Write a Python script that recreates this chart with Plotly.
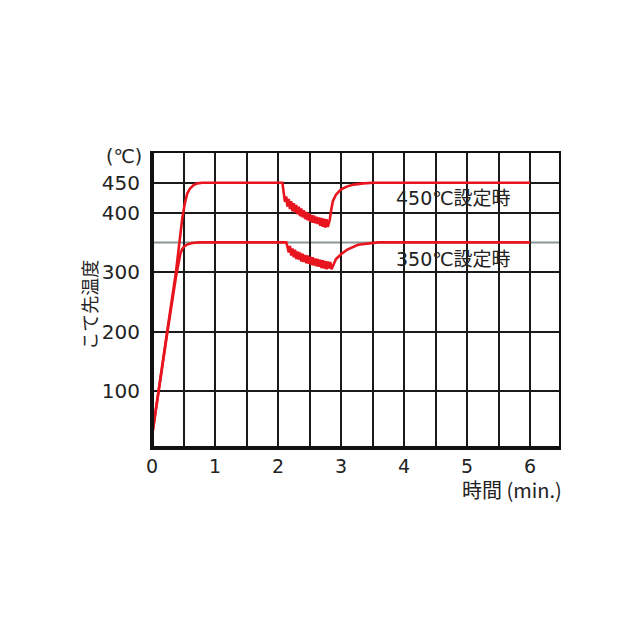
import plotly.graph_objects as go

# ---- data ----
# 450°C setting
t450 = [0, 0.1, 0.24, 0.38, 0.44, 0.48, 0.52, 0.56, 0.6, 0.66, 0.72, 0.8, 2.07,
        2.09, 2.11, 2.13, 2.15, 2.17, 2.19, 2.21, 2.23, 2.25, 2.27, 2.29, 2.31, 2.33,
        2.35, 2.37, 2.39, 2.41, 2.43, 2.45, 2.47, 2.49, 2.51, 2.53, 2.55, 2.57, 2.59,
        2.61, 2.63, 2.65, 2.67, 2.69, 2.71, 2.73, 2.75, 2.77, 2.79, 2.81,
        2.82, 2.84, 2.87, 2.92, 3.0, 3.1, 3.2, 3.35, 3.52, 4.0, 6.0]
v450 = [25, 100, 200, 300, 355, 390, 415, 432, 440, 446, 449, 450, 450,
        434, 418, 427, 410, 423, 406, 419, 402, 416, 400, 413, 397, 410,
        394, 407, 392, 404, 389, 401, 387, 399, 385, 396, 383, 395, 382,
        393, 381, 392, 378, 391, 376, 390, 375, 389, 376, 384,
        387, 402, 419, 430, 439, 444, 447, 449, 450, 450, 450]

# 350°C setting
t350 = [0, 0.1, 0.24, 0.38, 0.42, 0.45, 0.48, 0.52, 0.57, 0.64, 0.75, 2.13,
        2.15, 2.17, 2.19, 2.21, 2.23, 2.25, 2.27, 2.29, 2.31, 2.33, 2.35, 2.37,
        2.39, 2.41, 2.43, 2.45, 2.47, 2.49, 2.51, 2.53, 2.55, 2.57, 2.59, 2.61,
        2.63, 2.65, 2.67, 2.69, 2.71, 2.73, 2.75, 2.77, 2.79, 2.81, 2.83, 2.85, 2.87,
        2.89, 2.92, 2.96, 3.0, 3.1, 3.27, 3.59, 6.0]
v350 = [25, 98, 196, 292, 318, 331, 339, 344, 347, 349, 350, 350,
        343, 333, 344, 328, 340, 325, 338, 322, 335, 321, 333, 318,
        331, 317, 329, 315, 328, 314, 326, 312, 325, 311, 323, 310,
        322, 309, 321, 307, 320, 306, 319, 305, 318, 306, 317, 305, 310,
        316, 322, 326, 330, 338, 346, 350, 350]

x_ticks = [0, 1, 2, 3, 4, 5, 6]
y_ticks = [100, 200, 300, 400, 450]
y_ticktext = ["100", "200", "300", "400", "450"]
ref_line_350 = 350

labels = ["450℃設定時", "350℃設定時"]
label_pos_t = [3.84, 3.84]
label_pos_v = [425, 322]

RED = "#e8141e"
CJK = "Noto Sans CJK JP"
NUM = "DejaVu Sans, Noto Sans CJK JP"
TXT = "#222"

fig = go.Figure()
fig.add_trace(go.Scatter(x=t350, y=v350, mode="lines",
                         line=dict(color=RED, width=2.6), showlegend=False))
fig.add_trace(go.Scatter(x=t450, y=v450, mode="lines",
                         line=dict(color=RED, width=2.6), showlegend=False))

fig.add_hline(y=ref_line_350, line=dict(color="#8c9595", width=2), layer="below")

for txt, tx, ty in zip(labels, label_pos_t, label_pos_v):
    fig.add_annotation(x=tx, y=ty, xref="x", yref="y", text=txt, showarrow=False,
                       xanchor="left", yanchor="middle",
                       font=dict(family=NUM, size=19, color=TXT))

# axis unit and titles
fig.add_annotation(x=-0.02, y=0.99, xref="paper", yref="paper", text="(℃)",
                   showarrow=False, xanchor="right", yanchor="middle",
                   font=dict(family=NUM, size=19, color=TXT))
fig.add_annotation(x=-0.155, y=0.485, xref="paper", yref="paper", text="こて先温度",
                   showarrow=False, textangle=-90, xanchor="center", yanchor="middle",
                   font=dict(family=CJK, size=18, color=TXT))
fig.add_annotation(x=1.012, y=-0.139, xref="paper", yref="paper", text="時間 (min.)",
                   showarrow=False, xanchor="right", yanchor="middle",
                   font=dict(family=CJK, size=20, color=TXT))

# thick left / bottom frame
fig.add_shape(type="line", xref="paper", yref="paper", x0=0, x1=0, y0=0, y1=1,
              line=dict(color="#111", width=4))
fig.add_shape(type="line", xref="paper", yref="paper", x0=0, x1=1, y0=0, y1=0,
              line=dict(color="#111", width=4))

fig.update_xaxes(range=[0, 6.46], tickmode="array", tickvals=x_ticks,
                 ticktext=[str(v) for v in x_ticks],
                 showgrid=True, gridcolor="#1a1a1a", gridwidth=1.8,
                 minor=dict(dtick=0.5, tick0=0, showgrid=True, gridcolor="#1a1a1a", gridwidth=1.8),
                 showline=True, mirror=True, linecolor="#111", linewidth=2,
                 ticks="", zeroline=False,
                 tickfont=dict(family=NUM, size=19, color=TXT))
fig.update_yaxes(range=[5, 500], tickmode="array", tickvals=y_ticks, ticktext=y_ticktext,
                 showgrid=True, gridcolor="#1a1a1a", gridwidth=2,
                 showline=True, mirror=True, linecolor="#111", linewidth=2,
                 ticks="", zeroline=False, ticklabelstandoff=6,
                 tickfont=dict(family=NUM, size=20, color=TXT))

fig.update_layout(width=640, height=640, autosize=False,
                  margin=dict(l=144, r=89, t=145, b=200),
                  plot_bgcolor="white", paper_bgcolor="white",
                  showlegend=False)

fig.write_html("out.html")
